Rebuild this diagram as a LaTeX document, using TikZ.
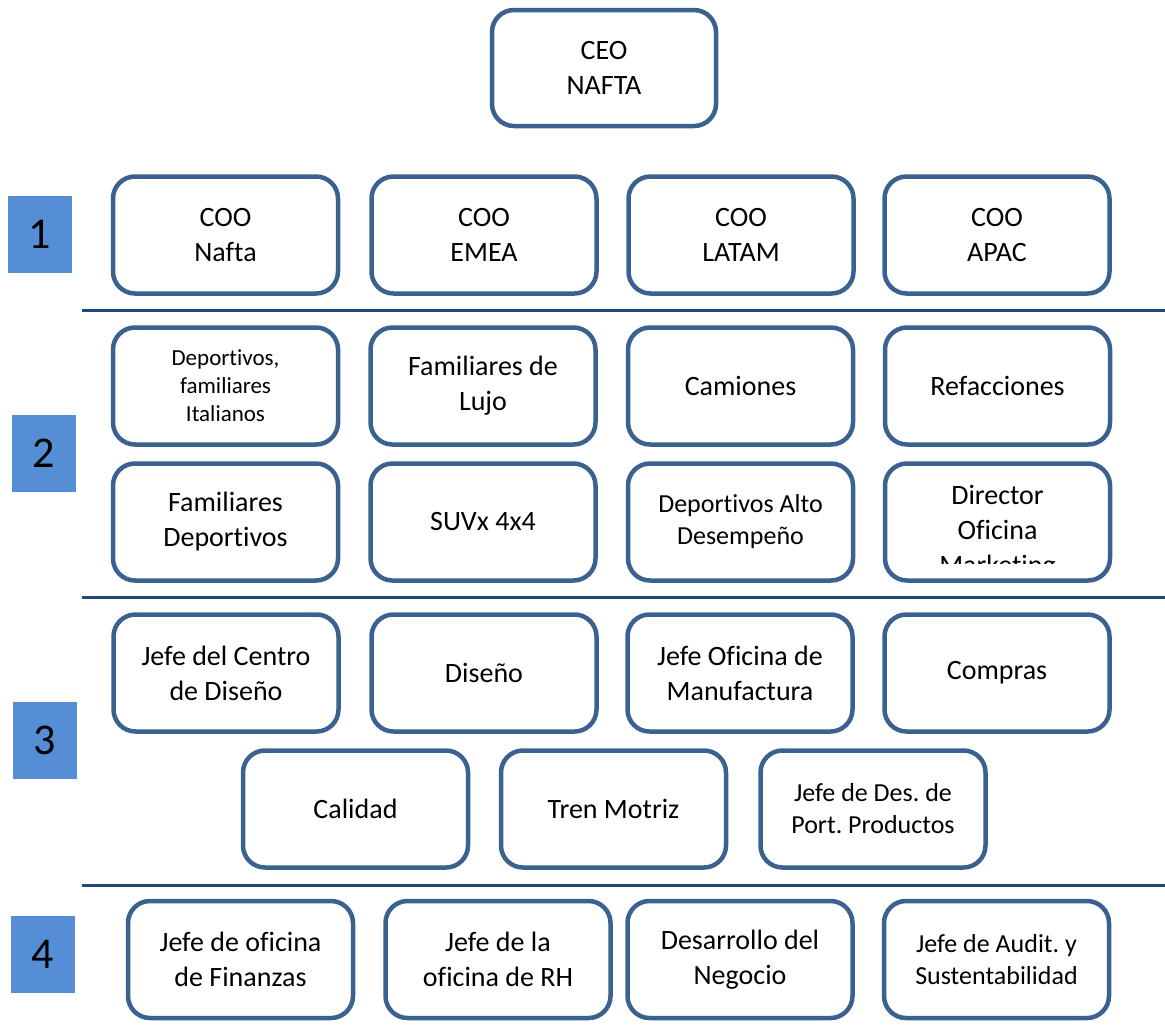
\documentclass[tikz,border=0pt]{standalone}
\usepackage{fontspec}
\setmainfont{Carlito}[Ligatures={NoCommon}]
\frenchspacing
\definecolor{boxc}{HTML}{3B6190}
\definecolor{numc}{HTML}{558ED5}
\definecolor{linec}{HTML}{1F497D}
\begin{document}
\begin{tikzpicture}[x=1pt,y=-1pt,
  box/.style={draw=boxc, line width=4.5pt, rounded corners=22pt, fill=white,
    minimum width=225pt, minimum height=117pt, align=center, inner sep=0pt,
    font=\fontsize{28}{35}\selectfont\frenchspacing},
  small/.style={font=\fontsize{23}{28}\selectfont\frenchspacing},
  mid/.style={font=\fontsize{26}{32}\selectfont\frenchspacing},
  numbox/.style={fill=numc, minimum width=64pt, minimum height=77pt, inner sep=0pt,
    font=\fontsize{44}{50}\selectfont},
  sep/.style={draw=linec, line width=3pt},
  txt/.style={align=center, inner sep=0pt, font=\fontsize{28}{35}\selectfont}]
\useasboundingbox (0,0) rectangle (1165,1034);

% CEO
\node[box, minimum width=224pt, minimum height=116pt] (ceo) at (604,68) {CEO\\NAFTA};

% Level 1
\node[numbox] (n1) at (40,234.5) {1};
\node[box] (c1) at (225.5,235) {COO\\Nafta};
\node[box] (c2) at (484,235) {COO\\EMEA};
\node[box] (c3) at (741,235) {COO\\LATAM};
\node[box] (c4) at (997,235) {COO\\APAC};

\coordinate (l1a) at (82,310);
\coordinate (l1b) at (1165,310);
\draw[sep] (l1a) -- (l1b);

% Level 2
\node[numbox] (n2) at (44,453) {2};
\node[box, small] (a1) at (225.5,386) {Deportivos,\\familiares\\Italianos};
\node[box] (a2) at (483,386) {Familiares de\\Lujo};
\node[box] (a3) at (740.5,386) {Camiones};
\node[box] (a4) at (997.5,386) {Refacciones};
\node[box] (b1) at (225.5,522) {Familiares\\Deportivos};
\node[box] (b2) at (483,522) {SUVx 4x4};
\node[box, mid] (b3) at (740.5,522) {Deportivos Alto\\Desempeño};
\node[box] (b4) at (997.5,522) {};
\begin{scope}
  \clip (880,463) rectangle (1115,563);
  \node[txt] (b4t) at (997.5,532) {Director\\Oficina\\Marketing};
\end{scope}

\coordinate (l2a) at (82,597);
\coordinate (l2b) at (1165,597);
\draw[sep] (l2a) -- (l2b);

% Level 3
\node[numbox] (n3) at (45,740) {3};
\node[box] (d1) at (226,673) {Jefe del Centro\\de Diseño};
\node[box] (d2) at (484,673) {Diseño};
\node[box] (d3) at (740,673) {Jefe Oficina de\\Manufactura};
\node[box] (d4) at (997,673) {Compras};
\node[box] (e1) at (355.5,809) {Calidad};
\node[box] (e2) at (613.5,809) {Tren Motriz};
\node[box, mid] (e3) at (873,809) {Jefe de Des. de\\Port. Productos};

\coordinate (l3a) at (82,885);
\coordinate (l3b) at (1165,885);
\draw[sep] (l3a) -- (l3b);

% Level 4
\node[numbox] (n4) at (43,954) {4};
\node[box] (f1) at (240.5,959.5) {Jefe de oficina\\de Finanzas};
\node[box] (f2) at (498,959.5) {Jefe de la\\oficina de RH};
\node[box] (f3) at (740,959.5) {Desarrollo del\\Negocio};
\node[box, mid] (f4) at (996.5,959.5) {Jefe de Audit. y\\Sustentabilidad};
\end{tikzpicture}
\end{document}
